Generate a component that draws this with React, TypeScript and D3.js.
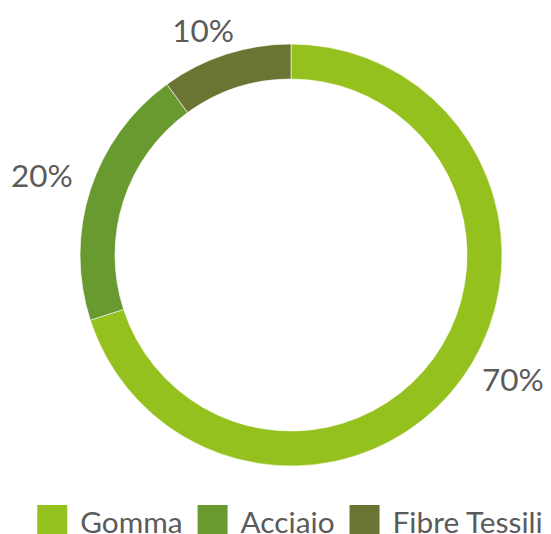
import React, { useEffect, useRef } from "react";
import * as d3 from "d3";

const categories = ["Gomma", "Acciaio", "Fibre Tessili"];
const values = [70, 20, 10];
const colors = ["#95c11f", "#689a2f", "#6b7433"];

const WIDTH = 551;
const HEIGHT = 534;
const CX = 291;
const CY = 255;
const OUTER = 211;
const INNER = 176;
const LABEL_OFFSET = 20;
const FONT = "Lato, 'Open Sans', sans-serif";

// small hand tweaks for the value labels (dx, dy), in slice order
const labelNudge = [
  [10, -18],
  [0, -5],
  [-7, 6],
];

const App = () => {
  const ref = useRef<SVGSVGElement>(null);

  useEffect(() => {
    const svg = d3.select(ref.current);
    svg.selectAll("*").remove();

    const data = categories.map((c, i) => ({ name: c, value: values[i], color: colors[i] }));
    const pie = d3.pie<any>().sort(null).value((d) => d.value);
    const arcs = pie(data);
    const arc = d3.arc<any>().innerRadius(INNER).outerRadius(OUTER);

    const g = svg.append("g").attr("transform", `translate(${CX},${CY})`);
    g.selectAll("path")
      .data(arcs)
      .join("path")
      .attr("d", arc)
      .attr("fill", (d) => d.data.color)
      .attr("stroke", "#fff")
      .attr("stroke-width", 0.6);

    // value labels outside the ring
    arcs.forEach((a, i) => {
      const mid = (a.startAngle + a.endAngle) / 2;
      const vx = Math.sin(mid);
      const vy = -Math.cos(mid);
      const t = g
        .append("text")
        .text(`${a.data.value}%`)
        .attr("font-family", FONT)
        .attr("font-size", 31.5)
        .attr("fill", "#5b5b5b")
        .attr("text-anchor", "middle");
      const w = (t.node() as SVGTextElement).getComputedTextLength();
      const h = 23;
      const bx = vx * (OUTER + LABEL_OFFSET) + (vx * w) / 2 + labelNudge[i][0];
      const by = vy * (OUTER + LABEL_OFFSET) + (vy * h) / 2 + labelNudge[i][1];
      t.attr("x", bx).attr("y", by + h / 2);
    });

    // legend
    const box = 30;
    const gap1 = 13;
    const gap2 = 15;
    const lg = svg.append("g");
    const items = data.map((d) => {
      const it = lg.append("g");
      it.append("rect").attr("width", box).attr("height", box).attr("y", 505).attr("fill", d.color);
      const t = it
        .append("text")
        .text(d.name)
        .attr("x", box + gap1)
        .attr("y", 532.5)
        .attr("font-family", FONT)
        .attr("font-size", 29.8)
        .attr("fill", "#5b5b5b");
      const w = (t.node() as SVGTextElement).getComputedTextLength();
      return { it, w: box + gap1 + w };
    });
    const total = d3.sum(items, (d) => d.w) + gap2 * (items.length - 1);
    let x = CX - 1 - total / 2;
    items.forEach((d) => {
      d.it.attr("transform", `translate(${x},0)`);
      x += d.w + gap2;
    });
  }, []);

  return (
    <svg
      ref={ref}
      width={WIDTH}
      height={HEIGHT}
      style={{ position: "absolute", left: 0, top: 0, background: "#fff" }}
    />
  );
};

export default App;
